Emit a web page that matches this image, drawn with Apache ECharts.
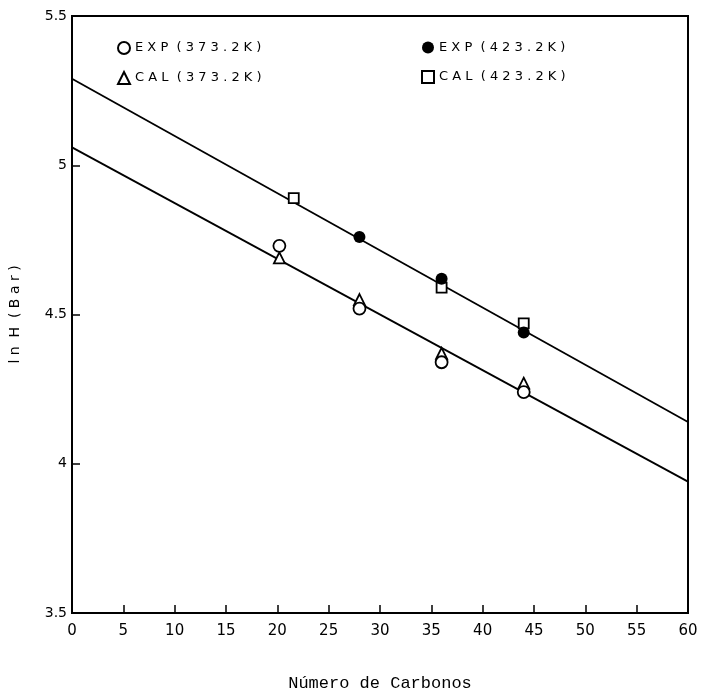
<!DOCTYPE html>
<html>
<head>
<meta charset="utf-8">
<script src="https://cdn.jsdelivr.net/npm/echarts@6/dist/echarts.min.js"></script>
<style>
  html, body { margin: 0; padding: 0; background: #fff; }
  #chart { width: 702px; height: 697px; }
</style>
</head>
<body>
<div id="chart"></div>
<script>
// datos
const expLow = [[20.2, 4.73], [28, 4.52], [36, 4.34], [44, 4.24]]   // EXP 373.2K
const calLow = [[20.2, 4.69], [28, 4.55], [36, 4.37], [44, 4.27]]   // CAL 373.2K
const expHigh = [[28, 4.76], [36, 4.62], [44, 4.44]]                // EXP 423.2K
const calHigh = [[21.6, 4.89], [36, 4.59], [44, 4.47]]              // CAL 423.2K
const lineLow = [[0, 5.06], [60, 3.94]]
const lineHigh = [[0, 5.29], [60, 4.14]]

const names = ['EXP (373.2K)', 'CAL (373.2K)', 'EXP (423.2K)', 'CAL (423.2K)']

const chart = echarts.init(document.getElementById('chart'))

// separa las letras como en el original
const spaced = s => s.split(' ').map(w => w.split('').join(' ')).join('  ')
const openStyle = { color: '#fff', borderColor: '#000', borderWidth: 1.8, opacity: 1 }

const legendBase = {
  orient: 'vertical',
  top: 36,
  itemWidth: 12,
  itemHeight: 12,
  itemGap: 16,
  textStyle: { fontFamily: 'DejaVu Sans', fontSize: 13, color: '#000' },
  formatter: spaced,
  selectedMode: false
}

const option = {
  backgroundColor: '#fff',
  animation: false,
  legend: [
    Object.assign({}, legendBase, { left: 112, data: [names[0], names[1]] }),
    Object.assign({}, legendBase, { left: 416, data: [names[2], names[3]] })
  ],
  grid: {
    left: 72, right: 14, top: 16, bottom: 84,
    show: true, borderColor: '#000', borderWidth: 2
  },
  xAxis: {
    type: 'value',
    min: 0, max: 60, interval: 5,
    name: 'Número de Carbonos',
    nameLocation: 'middle',
    nameGap: 62,
    nameTextStyle: { fontFamily: 'Liberation Mono', fontSize: 17, color: '#000' },
    axisLine: { lineStyle: { color: '#000', width: 2 } },
    axisTick: { inside: true, length: 8, lineStyle: { color: '#000', width: 1.5 } },
    axisLabel: { margin: 11, fontFamily: 'DejaVu Sans', fontSize: 15, color: '#000' },
    splitLine: { show: false }
  },
  yAxis: {
    type: 'value',
    min: 3.5, max: 5.5, interval: 0.5,
    name: spaced('ln H (Bar)'),
    nameLocation: 'middle',
    nameGap: 50,
    nameTextStyle: { fontFamily: 'DejaVu Sans', fontSize: 14, color: '#000' },
    axisLine: { lineStyle: { color: '#000', width: 2 } },
    axisTick: { inside: true, length: 8, lineStyle: { color: '#000', width: 1.5 } },
    axisLabel: { margin: 5, fontFamily: 'DejaVu Sans', fontSize: 14, color: '#000' },
    splitLine: { show: false }
  },
  series: [
    {
      type: 'line', data: lineHigh, symbol: 'none', silent: true,
      lineStyle: { color: '#000', width: 1.8 }
    },
    {
      type: 'line', data: lineLow, symbol: 'none', silent: true,
      lineStyle: { color: '#000', width: 1.8 }
    },
    {
      name: names[0], type: 'scatter', data: expLow,
      symbol: 'circle', symbolSize: 12, itemStyle: openStyle, z: 5
    },
    {
      name: names[1], type: 'scatter', data: calLow,
      symbol: 'triangle', symbolSize: 11, itemStyle: openStyle, z: 4
    },
    {
      name: names[2], type: 'scatter', data: expHigh,
      symbol: 'circle', symbolSize: 12, itemStyle: { color: '#000', opacity: 1 }, z: 5
    },
    {
      name: names[3], type: 'scatter', data: calHigh,
      symbol: 'rect', symbolSize: 10, itemStyle: openStyle, z: 4
    }
  ]
}

chart.setOption(option)
</script>
</body>
</html>
